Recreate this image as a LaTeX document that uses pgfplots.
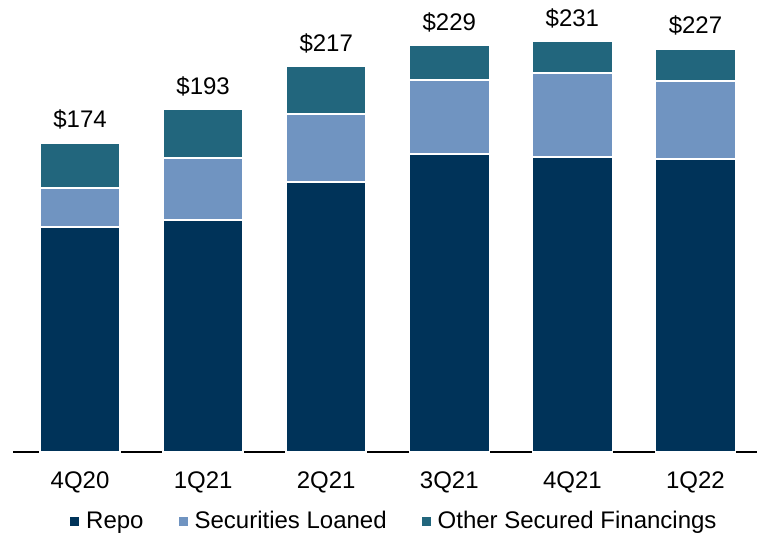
\documentclass[border=0pt]{standalone}
\usepackage{pgfplots}
\pgfplotsset{compat=1.18}
\usepackage{fontspec}
\setmainfont{Liberation Sans}

\definecolor{repo}{RGB}{0,51,89}
\definecolor{secloan}{RGB}{112,148,193}
\definecolor{othersec}{RGB}{34,102,125}

\pgfplotsset{frame/.style={
    at={(13pt,82pt)}, anchor=south west,
    scale only axis, width=744pt, height=452pt,
    xmin=-0.545, xmax=5.5, ymin=0, ymax=254.5, clip=false}}

\begin{document}
\fontsize{24}{28}\selectfont
\begin{tikzpicture}
  \useasboundingbox (0,0) rectangle (761pt,534pt);
  \begin{axis}[
      frame,
      ybar stacked, bar width=80pt,
      axis y line=none, axis x line*=bottom,
      x axis line style={black, line width=1.2pt, -},
      xtick={0,1,2,3,4,5},
      xticklabels={4Q20,1Q21,2Q21,3Q21,4Q21,1Q22},
      xtick style={draw=none},
      xticklabel style={anchor=base, yshift=-37pt, inner sep=0pt},
      ytick=\empty,
      legend columns=3,
      legend style={at={(57pt,-70pt)}, anchor=west, draw=none, fill=none,
        inner sep=0pt, font=\fontsize{24}{28}\selectfont,
        /tikz/every odd column/.append style={column sep=3pt},
        /tikz/every even column/.append style={column sep=31pt},
        nodes={inner sep=0pt, inner xsep=4pt}},
      legend image code/.code={\fill[#1,draw=none] (0pt,-4.5pt) rectangle (9pt,4.5pt);},
    ]
    \addplot[fill=repo, draw=white, line width=1.5pt]
      coordinates {(0,126.7) (1,130.6) (2,152.0) (3,167.8) (4,166.1) (5,165.0)};
    \addplot[fill=secloan, draw=white, line width=1.5pt]
      coordinates {(0,21.9) (1,34.9) (2,38.3) (3,41.7) (4,47.3) (5,43.9)};
    \addplot[fill=othersec, draw=white, line width=1.5pt]
      coordinates {(0,25.4) (1,27.5) (2,26.7) (3,19.5) (4,17.6) (5,18.1)};
    \legend{Repo, Securities Loaned, Other Secured Financings}
  \end{axis}
  % totals above the stacks
  \begin{axis}[frame, hide axis]
    \addplot[draw=none, mark=none, point meta=explicit symbolic,
      nodes near coords,
      every node near coord/.append style={anchor=base, yshift=15pt,
        inner sep=0pt, text=black, font=\fontsize{24}{28}\selectfont}]
      coordinates {(0,174) [\$174] (1,193) [\$193] (2,217) [\$217]
                   (3,229) [\$229] (4,231) [\$231] (5,227) [\$227]};
  \end{axis}
\end{tikzpicture}
\end{document}
